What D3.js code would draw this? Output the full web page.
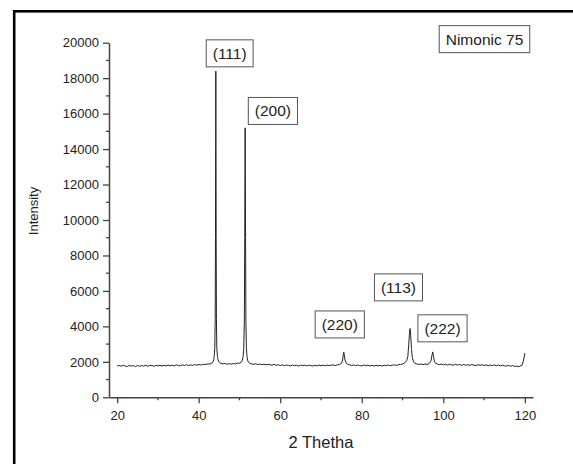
<!DOCTYPE html>
<meta charset="utf-8">
<script src="https://d3js.org/d3.v7.min.js"></script>
<style>
  body { margin: 0; background: #fff; }
  text { font-family: "Liberation Sans", Arial, sans-serif; fill: #222; }
</style>
<body>
<div id="graph"></div>
<script>
  // 2 theta (deg) and intensity
  var twoTheta = [
    20, 20.5, 21, 21.5, 22, 22.5, 23, 23.5, 24, 24.5, 25, 25.5, 26, 26.5, 27, 27.5, 28, 28.5, 29, 29.5,
    30, 30.5, 31, 31.5, 32, 32.5, 33, 33.5, 34, 34.5, 35, 35.5, 36, 36.5, 37, 37.5, 38, 38.5, 39, 39.5,
    40, 40.5, 41, 41.5, 42, 42.5, 43, 43.3, 43.5, 43.7, 43.8, 43.95, 44.05, 44.12, 44.2, 44.28, 44.35,
    44.45, 44.6, 44.75, 44.95, 45.2, 45.5, 46, 46.5, 47, 47.5, 48, 48.5, 49, 49.5, 50, 50.5, 50.7, 50.9,
    51.05, 51.2, 51.3, 51.4, 51.5, 51.58, 51.7, 51.85, 52, 52.2, 52.5, 53, 53.5, 54, 54.5, 55, 55.5,
    56, 56.5, 57, 57.5, 58, 58.5, 59, 59.5, 60, 60.5, 61, 61.5, 62, 62.5, 63, 63.5, 64, 64.5, 65, 65.5,
    66, 66.5, 67, 67.5, 68, 68.5, 69, 69.5, 70, 70.5, 71, 71.5, 72, 72.5, 73, 73.5, 74, 74.5, 75, 75.3,
    75.5, 75.6, 75.7, 75.9, 76.2, 76.6, 77, 77.5, 78, 78.5, 79, 79.5, 80, 80.5, 81, 81.5, 82, 82.5, 83,
    83.5, 84, 84.5, 85, 85.5, 86, 86.5, 87, 87.5, 88, 88.5, 89, 89.5, 90, 90.5, 91, 91.3, 91.5, 91.7,
    91.85, 92, 92.2, 92.4, 92.7, 93, 93.5, 94, 94.5, 95, 95.5, 96, 96.5, 97, 97.2, 97.4, 97.6, 97.8,
    98.1, 98.5, 99, 99.5, 100, 100.5, 101, 101.5, 102, 102.5, 103, 103.5, 104, 104.5, 105, 105.5, 106,
    106.5, 107, 107.5, 108, 108.5, 109, 109.5, 110, 110.5, 111, 111.5, 112, 112.5, 113, 113.5, 114,
    114.5, 115, 115.5, 116, 116.5, 117, 117.5, 118, 118.5, 119, 119.3, 119.7, 120
  ];
  var intensity = [
    1770, 1800, 1750, 1810, 1760, 1740, 1800, 1760, 1790, 1730, 1800, 1750, 1790, 1760, 1810, 1750, 1790, 1800, 1750, 1800,
    1770, 1810, 1760, 1800, 1770, 1820, 1780, 1810, 1770, 1830, 1790, 1780, 1830, 1790, 1840, 1790, 1830, 1800, 1850, 1810,
    1850, 1820, 1860, 1850, 1870, 1880, 1900, 1940, 2000, 2120, 2300, 2750, 4400, 9000, 18400, 9000, 4400,
    2750, 2300, 2120, 2000, 1950, 1910, 1880, 1910, 1860, 1900, 1870, 1910, 1880, 1930, 1920, 1990, 2080, 2300,
    2750, 4300, 9000, 15200, 9000, 4300, 2750, 2300, 2090, 1970, 1920, 1880, 1860, 1890, 1840, 1880, 1840,
    1870, 1830, 1860, 1830, 1810, 1860, 1800, 1840, 1790, 1830, 1780, 1820, 1800, 1770, 1820, 1780, 1810, 1760, 1810, 1790,
    1820, 1770, 1810, 1790, 1760, 1810, 1770, 1820, 1780, 1810, 1770, 1820, 1790, 1810, 1830, 1790, 1830, 1850, 1910, 2100,
    2450, 2540, 2400, 2100, 1920, 1850, 1830, 1790, 1830, 1780, 1820, 1790, 1770, 1820, 1780, 1810, 1770, 1800, 1760,
    1810, 1770, 1800, 1760, 1810, 1790, 1820, 1780, 1810, 1830, 1800, 1840, 1850, 1880, 1940, 2060, 2300, 2900, 3600,
    3880, 3500, 2700, 2250, 2000, 1920, 1880, 1850, 1880, 1840, 1880, 1850, 1900, 2060, 2350, 2560, 2300, 2050,
    1920, 1880, 1840, 1880, 1830, 1870, 1820, 1860, 1830, 1810, 1860, 1820, 1850, 1800, 1850, 1810, 1840,
    1800, 1850, 1810, 1790, 1840, 1800, 1840, 1790, 1830, 1780, 1820, 1790, 1830, 1780, 1820, 1770, 1810,
    1780, 1760, 1800, 1750, 1790, 1740, 1760, 1730, 1780, 1800, 2100, 2490
  ];

  var xTicks = [20, 40, 60, 80, 100, 120];
  var xMinor = [30, 50, 70, 90, 110];
  var yTicks = [0, 2000, 4000, 6000, 8000, 10000, 12000, 14000, 16000, 18000, 20000];
  var yMinor = [1000, 3000, 5000, 7000, 9000, 11000, 13000, 15000, 17000, 19000];

  // reflection labels, placed at (2 theta, intensity)
  var peakLabels = ["(111)", "(200)", "(220)", "(113)", "(222)", "Nimonic 75"];
  var labelAt2T = [47.6, 58.2, 74.6, 89.0, 99.8, 110.1];
  var labelAtI = [19400, 16150, 4110, 6200, 3890, 20200];

  var W = 573, H = 464;
  var svg = d3.select("#graph").append("svg")
    .attr("width", W)
    .attr("height", H);

  // outer frame (runs off the right and bottom edges)
  svg.append("rect")
    .attr("x", 14.2).attr("y", 11.3)
    .attr("width", 620).attr("height", 520)
    .attr("fill", "none")
    .attr("stroke", "#000")
    .attr("stroke-width", 2.6);

  var x = d3.scaleLinear().domain([18, 122]).range([109, 533]);
  var y = d3.scaleLinear().domain([0, 20000]).range([397.3, 42.7]);

  // axes
  var yAxis = d3.axisLeft(y).tickValues(yTicks).tickFormat(d3.format("d"))
    .tickSize(6).tickSizeOuter(0).tickPadding(4);
  var xAxis = d3.axisBottom(x).tickValues(xTicks).tickFormat(d3.format("d"))
    .tickSize(6).tickSizeOuter(0).tickPadding(7);

  var gy = svg.append("g").attr("transform", "translate(109,0)").call(yAxis);
  var gx = svg.append("g").attr("transform", "translate(0,397.3)").call(xAxis);

  gy.selectAll(".minor").data(yMinor).enter().append("line")
    .attr("class", "minor")
    .attr("x1", -3).attr("x2", 0)
    .attr("y1", function (d) { return y(d); })
    .attr("y2", function (d) { return y(d); });
  gx.selectAll(".minor").data(xMinor).enter().append("line")
    .attr("class", "minor")
    .attr("y1", 0).attr("y2", 3)
    .attr("x1", function (d) { return x(d); })
    .attr("x2", function (d) { return x(d); });

  [gx, gy].forEach(function (g) {
    g.attr("font-size", 13).attr("font-family", "Liberation Sans, Arial, sans-serif");
    g.select(".domain").attr("stroke", "#444").attr("stroke-width", 1.5);
    g.selectAll("line").attr("stroke", "#444").attr("stroke-width", 1.3);
    g.selectAll("text").attr("fill", "#222");
  });

  // axis titles
  svg.append("text")
    .attr("x", x(70)).attr("y", 448)
    .attr("text-anchor", "middle")
    .attr("font-size", 16.5)
    .text("2 Thetha");

  svg.append("text")
    .attr("transform", "translate(38,211) rotate(-90)")
    .attr("text-anchor", "middle")
    .attr("font-size", 13)
    .text("Intensity");

  // the pattern
  var pts = twoTheta.map(function (t, i) { return [t, intensity[i]]; });
  svg.append("path")
    .datum(pts)
    .attr("fill", "none")
    .attr("stroke", "#222")
    .attr("stroke-width", 1)
    .attr("stroke-linejoin", "round")
    .attr("d", d3.line()
      .x(function (d) { return x(d[0]); })
      .y(function (d) { return y(d[1]); }));

  // boxed labels
  peakLabels.forEach(function (lab, i) {
    var g = svg.append("g");
    var t = g.append("text")
      .attr("x", x(labelAt2T[i]))
      .attr("y", y(labelAtI[i]))
      .attr("text-anchor", "middle")
      .attr("dominant-baseline", "central")
      .attr("font-size", 15.5)
      .text(lab);
    var w = t.node().getComputedTextLength() + 13;
    g.insert("rect", "text")
      .attr("x", x(labelAt2T[i]) - w / 2)
      .attr("y", y(labelAtI[i]) - 13.5)
      .attr("width", w)
      .attr("height", 27)
      .attr("fill", "#fff")
      .attr("stroke", "#555")
      .attr("stroke-width", 1);
  });
</script>
</body>
